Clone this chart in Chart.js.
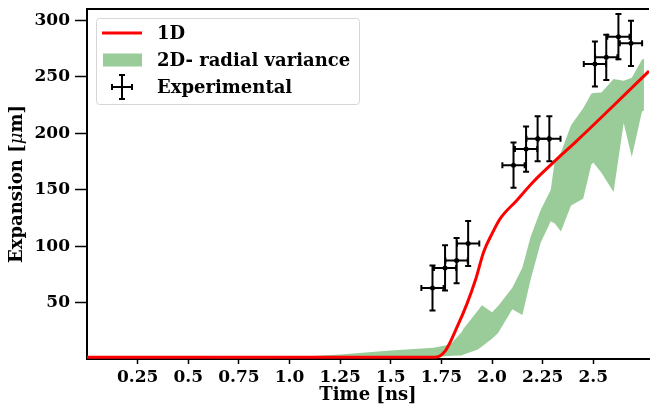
<!DOCTYPE html>
<html><head><meta charset="utf-8">
<script src="https://cdn.jsdelivr.net/npm/chart.js@4/dist/chart.umd.min.js"></script>
<style>html,body{margin:0;padding:0;background:#fff}canvas{display:block}</style>
</head><body>
<canvas id="c" width="653" height="408"></canvas>
<script>
// ---- data ----
const xTickValues = [0.25, 0.5, 0.75, 1.0, 1.25, 1.5, 1.75, 2.0, 2.25, 2.5];
const xTickLabels = ["0.25", "0.5", "0.75", "1.0", "1.25", "1.5", "1.75", "2.0", "2.25", "2.5"];
const yTickValues = [50, 100, 150, 200, 250, 300];

const seriesLabels = ["1D", "2D- radial variance", "Experimental"];

const oneDTime      = [0, 0.5, 1.0, 1.5, 1.72, 1.771, 1.828, 1.877, 1.918, 1.959, 2.0, 2.041, 2.123, 2.204, 2.302, 2.417, 2.58, 2.775];
const oneDExpansion = [1.5, 1.5, 1.5, 1.5, 1.6, 7.7, 28.6, 49.3, 69.9, 95, 111, 124.5, 140.7, 157, 174, 193, 221, 255];

const bandTime  = [0, 0.5, 1.0, 1.25, 1.5, 1.71, 1.77, 1.8, 1.85, 1.86, 1.93, 1.95, 2.0, 2.03, 2.1, 2.15, 2.19, 2.24, 2.29, 2.31, 2.34, 2.39, 2.45, 2.49, 2.5, 2.54, 2.6, 2.65, 2.69, 2.74, 2.75];
const bandLower = [0.3, 0.3, 0.5, 1, 1.5, 2, 2.5, 2.8, 3.2, 4, 8.5, 11, 18, 23, 44, 39, 70, 103, 122, 120, 113, 136, 142, 172, 174, 165, 148, 209, 179, 219, 220];
const bandUpper = [0.5, 0.5, 1.5, 4, 7.5, 10, 12, 14, 24, 27, 43, 47.5, 41.5, 47, 63, 81, 108, 132, 150, 176, 183, 207, 222, 235, 235.5, 236, 248, 246.5, 249, 265, 266];

const expTime         = [1.706, 1.768, 1.825, 1.882, 2.106, 2.168, 2.225, 2.283, 2.508, 2.564, 2.624, 2.686];
const expExpansion    = [62.9, 80.7, 87.2, 102.3, 171.7, 185.9, 195.1, 195.1, 261.3, 267.2, 285.5, 279.6];
const expTimeErr      = [0.055, 0.055, 0.055, 0.055, 0.055, 0.055, 0.055, 0.055, 0.055, 0.055, 0.055, 0.055];
const expExpansionErr = [20, 20, 20, 20, 20, 20, 20, 20, 20, 20, 20, 20];

// ---- styling ----
const FONT = "'DejaVu Serif', serif";
const RED = 'rgb(255,0,0)';
const GREEN = 'rgba(0,128,0,0.4)';

const pts = (xs, ys) => xs.map((x, i) => ({x, y: ys[i]}));

const errorBars = {
  id: 'errorBars',
  afterDatasetsDraw(chart) {
    const {ctx, scales: {x, y}} = chart;
    ctx.save();
    ctx.strokeStyle = '#000';
    ctx.lineWidth = 2;
    const cap = 3;
    for (let i = 0; i < expTime.length; i++) {
      const cx = x.getPixelForValue(expTime[i]);
      const cy = y.getPixelForValue(expExpansion[i]);
      const x0 = x.getPixelForValue(expTime[i] - expTimeErr[i]);
      const x1 = x.getPixelForValue(expTime[i] + expTimeErr[i]);
      const y0 = y.getPixelForValue(expExpansion[i] - expExpansionErr[i]);
      const y1 = y.getPixelForValue(expExpansion[i] + expExpansionErr[i]);
      ctx.beginPath();
      ctx.moveTo(x0, cy); ctx.lineTo(x1, cy);
      ctx.moveTo(cx, y0); ctx.lineTo(cx, y1);
      ctx.moveTo(x0, cy - cap); ctx.lineTo(x0, cy + cap);
      ctx.moveTo(x1, cy - cap); ctx.lineTo(x1, cy + cap);
      ctx.moveTo(cx - cap, y0); ctx.lineTo(cx + cap, y0);
      ctx.moveTo(cx - cap, y1); ctx.lineTo(cx + cap, y1);
      ctx.stroke();
    }
    ctx.restore();
  }
};

const frameAndLegend = {
  id: 'frameAndLegend',
  afterDraw(chart) {
    const {ctx, chartArea} = chart;
    ctx.save();
    // top spine
    ctx.strokeStyle = '#000';
    ctx.lineWidth = 2;
    ctx.beginPath();
    ctx.moveTo(chartArea.left - 1, chartArea.top);
    ctx.lineTo(chartArea.right, chartArea.top);
    ctx.stroke();
    // y axis title with italic mu
    ctx.fillStyle = '#000';
    ctx.save();
    ctx.translate(17, (chartArea.top + chartArea.bottom) / 2);
    ctx.rotate(-Math.PI / 2);
    ctx.textBaseline = 'middle';
    const p1 = 'Expansion [', p2 = '\u03bc', p3 = 'm]';
    const fB = "bold 18px " + FONT, fI = "italic 18px " + FONT;
    ctx.font = fB; const w1 = ctx.measureText(p1).width, w3 = ctx.measureText(p3).width;
    ctx.font = fI; const w2 = ctx.measureText(p2).width;
    let sx = -(w1 + w2 + w3) / 2;
    ctx.textAlign = 'left';
    ctx.font = fB; ctx.fillText(p1, sx, 0); sx += w1;
    ctx.font = fI; ctx.fillText(p2, sx, 0); sx += w2;
    ctx.font = fB; ctx.fillText(p3, sx, 0);
    ctx.restore();
    // legend box
    const bx = 96.5, by = 18.5, bw = 263, bh = 86;
    ctx.fillStyle = 'rgba(255,255,255,0.8)';
    ctx.strokeStyle = '#d6d6d6';
    ctx.lineWidth = 1;
    ctx.beginPath();
    ctx.roundRect(bx, by, bw, bh, 3);
    ctx.fill(); ctx.stroke();
    const hx0 = 102, hx1 = 142, tx = 157;
    const rows = [33, 60, 87];
    // 1D handle
    ctx.strokeStyle = RED; ctx.lineWidth = 3;
    ctx.beginPath(); ctx.moveTo(hx0, rows[0]); ctx.lineTo(hx1, rows[0]); ctx.stroke();
    // band handle
    ctx.fillStyle = GREEN;
    ctx.fillRect(hx0 + 1, rows[1] - 6.5, hx1 - hx0 - 1, 13);
    // error bar handle
    const mx = (hx0 + hx1) / 2, my = rows[2];
    ctx.strokeStyle = '#000'; ctx.lineWidth = 2;
    ctx.beginPath();
    ctx.moveTo(mx - 10, my); ctx.lineTo(mx + 10, my);
    ctx.moveTo(mx, my - 12); ctx.lineTo(mx, my + 12);
    ctx.moveTo(mx - 10, my - 3); ctx.lineTo(mx - 10, my + 3);
    ctx.moveTo(mx + 10, my - 3); ctx.lineTo(mx + 10, my + 3);
    ctx.moveTo(mx - 3, my - 12); ctx.lineTo(mx + 3, my - 12);
    ctx.moveTo(mx - 3, my + 12); ctx.lineTo(mx + 3, my + 12);
    ctx.stroke();
    // texts
    ctx.fillStyle = '#000';
    ctx.font = "bold 18px " + FONT;
    ctx.textBaseline = 'middle';
    ctx.textAlign = 'left';
    seriesLabels.forEach((t, i) => ctx.fillText(t, tx, rows[i] + 1));
    ctx.restore();
  }
};

new Chart(document.getElementById('c'), {
  data: {
    datasets: [
      { type: 'line', label: seriesLabels[0], data: pts(oneDTime, oneDExpansion),
        borderColor: RED, borderWidth: 3, pointRadius: 0, cubicInterpolationMode: 'monotone', fill: false, order: 1 },
      { type: 'line', label: 'band-lower', data: pts(bandTime, bandLower),
        borderWidth: 0, borderColor: 'rgba(0,0,0,0)', pointRadius: 0, fill: false, tension: 0, order: 3 },
      { type: 'line', label: seriesLabels[1], data: pts(bandTime, bandUpper),
        borderWidth: 0, borderColor: 'rgba(0,0,0,0)', pointRadius: 0, fill: '-1', backgroundColor: GREEN, tension: 0, order: 2 },
      { type: 'scatter', label: seriesLabels[2], data: pts(expTime, expExpansion),
        pointRadius: 2.5, pointBackgroundColor: '#000', pointBorderColor: '#000', borderWidth: 0, order: 0 }
    ]
  },
  options: {
    responsive: false,
    animation: false,
    devicePixelRatio: 1,
    layout: { padding: { top: 9, right: 0, left: 0, bottom: 0 } },
    plugins: { legend: { display: false }, tooltip: { enabled: false } },
    scales: {
      x: {
        type: 'linear', min: 0, max: 2.775,
        afterBuildTicks: s => { s.ticks = xTickValues.map(v => ({value: v})); },
        afterFit: s => { s.height = 49; s.paddingLeft = 0; s.paddingRight = 0; s.paddingTop = 0; s.paddingBottom = 0; },
        ticks: { callback: (v, i) => xTickLabels[i], color: '#000', font: { family: FONT, weight: 'bold', size: 17 }, padding: 3, maxRotation: 0, autoSkip: false },
        grid: { drawOnChartArea: false, drawTicks: true, tickLength: 5, tickColor: '#000', tickWidth: 1.5 },
        border: { display: true, color: '#000', width: 2 },
        title: { display: true, text: 'Time [ns]', color: '#000', font: { family: FONT, weight: 'bold', size: 18 }, padding: { top: 0, bottom: 2 } }
      },
      y: {
        type: 'linear', min: 0, max: 310,
        afterBuildTicks: s => { s.ticks = yTickValues.map(v => ({value: v})); },
        afterFit: s => { s.width = 87; s.paddingLeft = 0; s.paddingRight = 0; s.paddingTop = 0; s.paddingBottom = 0; },
        ticks: { callback: v => String(v), color: '#000', font: { family: FONT, weight: 'bold', size: 17 }, padding: 5 },
        grid: { drawOnChartArea: false, drawTicks: true, tickLength: 12, tickColor: '#000', tickWidth: 1.5 },
        border: { display: true, color: '#000', width: 2 },
        title: { display: false }
      }
    }
  },
  plugins: [errorBars, frameAndLegend]
});
</script>
</body></html>
